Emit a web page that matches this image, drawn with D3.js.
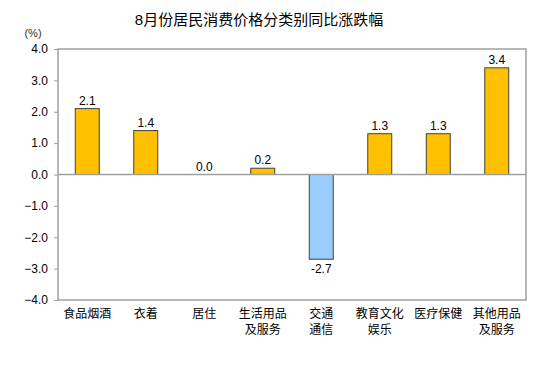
<!DOCTYPE html>
<html>
<head>
<meta charset="utf-8">
<script src="https://cdn.jsdelivr.net/npm/d3@7"></script>
<style>
body { margin: 0; background: #fff; }
text { font-family: Arial, "Liberation Sans", "Noto Sans CJK SC", sans-serif; }
</style>
</head>
<body>
<div id="chart"></div>
<script>
// data
var categories = [["食品烟酒"], ["衣着"], ["居住"], ["生活用品", "及服务"], ["交通", "通信"], ["教育文化", "娱乐"], ["医疗保健"], ["其他用品", "及服务"]];
var values = [2.1, 1.4, 0.0, 0.2, -2.7, 1.3, 1.3, 3.4];
var yTicks = [4, 3, 2, 1, 0, -1, -2, -3, -4];
var title = "8月份居民消费价格分类别同比涨跌幅";

var W = 552, H = 378;
var margin = {top: 49, right: 26, bottom: 78, left: 58};
var width = W - margin.left - margin.right;
var height = H - margin.top - margin.bottom;

var svg = d3.select('#chart').append('svg')
    .attr('width', W)
    .attr('height', H);

svg.append('text')
    .attr('x', 259).attr('y', 25)
    .attr('text-anchor', 'middle')
    .attr('font-size', 15)
    .attr('fill', '#000')
    .text(title);

svg.append('text')
    .attr('x', 33).attr('y', 37)
    .attr('text-anchor', 'middle')
    .attr('font-size', 11)
    .attr('fill', '#333')
    .text('(%)');

var g = svg.append('g')
    .attr('transform', 'translate(' + margin.left + ',' + margin.top + ')');

var x = d3.scaleBand().domain(d3.range(categories.length)).range([0, width]).paddingInner(0.59).paddingOuter(0.295);
var y = d3.scaleLinear().domain([-4, 4]).range([height, 0]);

// frame
g.append('rect')
    .attr('x', 0).attr('y', 0)
    .attr('width', width).attr('height', height)
    .attr('fill', 'none')
    .attr('stroke', '#a0a0a0')
    .attr('stroke-width', 1.5);

var yAxis = g.append('g')
    .call(d3.axisLeft(y).tickValues(yTicks).tickSize(4).tickPadding(6).tickFormat(d3.format('.1f')));
yAxis.select('.domain').remove();
yAxis.selectAll('line').attr('stroke', '#a0a0a0');
yAxis.selectAll('text').attr('font-size', 12).attr('fill', '#000')
    .attr('font-family', 'Arial, "Liberation Sans", sans-serif');

// bars
g.selectAll('rect.bar')
    .data(values)
    .enter().append('rect')
    .attr('class', 'bar')
    .attr('x', function(d, i) { return x(i); })
    .attr('width', x.bandwidth())
    .attr('y', function(d) { return y(Math.max(0, d)); })
    .attr('height', function(d) { return Math.abs(y(d) - y(0)); })
    .attr('fill', function(d) { return d < 0 ? '#99ccff' : '#ffc000'; })
    .attr('stroke', '#404040')
    .attr('stroke-width', 1);

// zero line
g.append('line')
    .attr('x1', 0).attr('x2', width)
    .attr('y1', y(0)).attr('y2', y(0))
    .attr('stroke', '#a0a0a0')
    .attr('stroke-width', 1.5);

// value labels
g.selectAll('text.val')
    .data(values)
    .enter().append('text')
    .attr('class', 'val')
    .attr('x', function(d, i) { return x(i) + x.bandwidth() / 2; })
    .attr('y', function(d) { return d < 0 ? y(d) + 14 : y(d) - 4; })
    .attr('text-anchor', 'middle')
    .attr('font-size', 12)
    .attr('fill', '#000')
    .text(function(d) { return d.toFixed(1); });

// category labels
var cats = g.selectAll('text.cat')
    .data(categories)
    .enter().append('text')
    .attr('class', 'cat')
    .attr('text-anchor', 'middle')
    .attr('font-size', 12)
    .attr('fill', '#000')
    .attr('transform', function(d, i) { return 'translate(' + (x(i) + x.bandwidth() / 2) + ',' + (height + 18) + ')'; });
cats.selectAll('tspan')
    .data(function(d) { return d; })
    .enter().append('tspan')
    .attr('x', 0)
    .attr('dy', function(d, i) { return i === 0 ? 0 : 16; })
    .text(function(d) { return d; });
</script>
</body>
</html>
